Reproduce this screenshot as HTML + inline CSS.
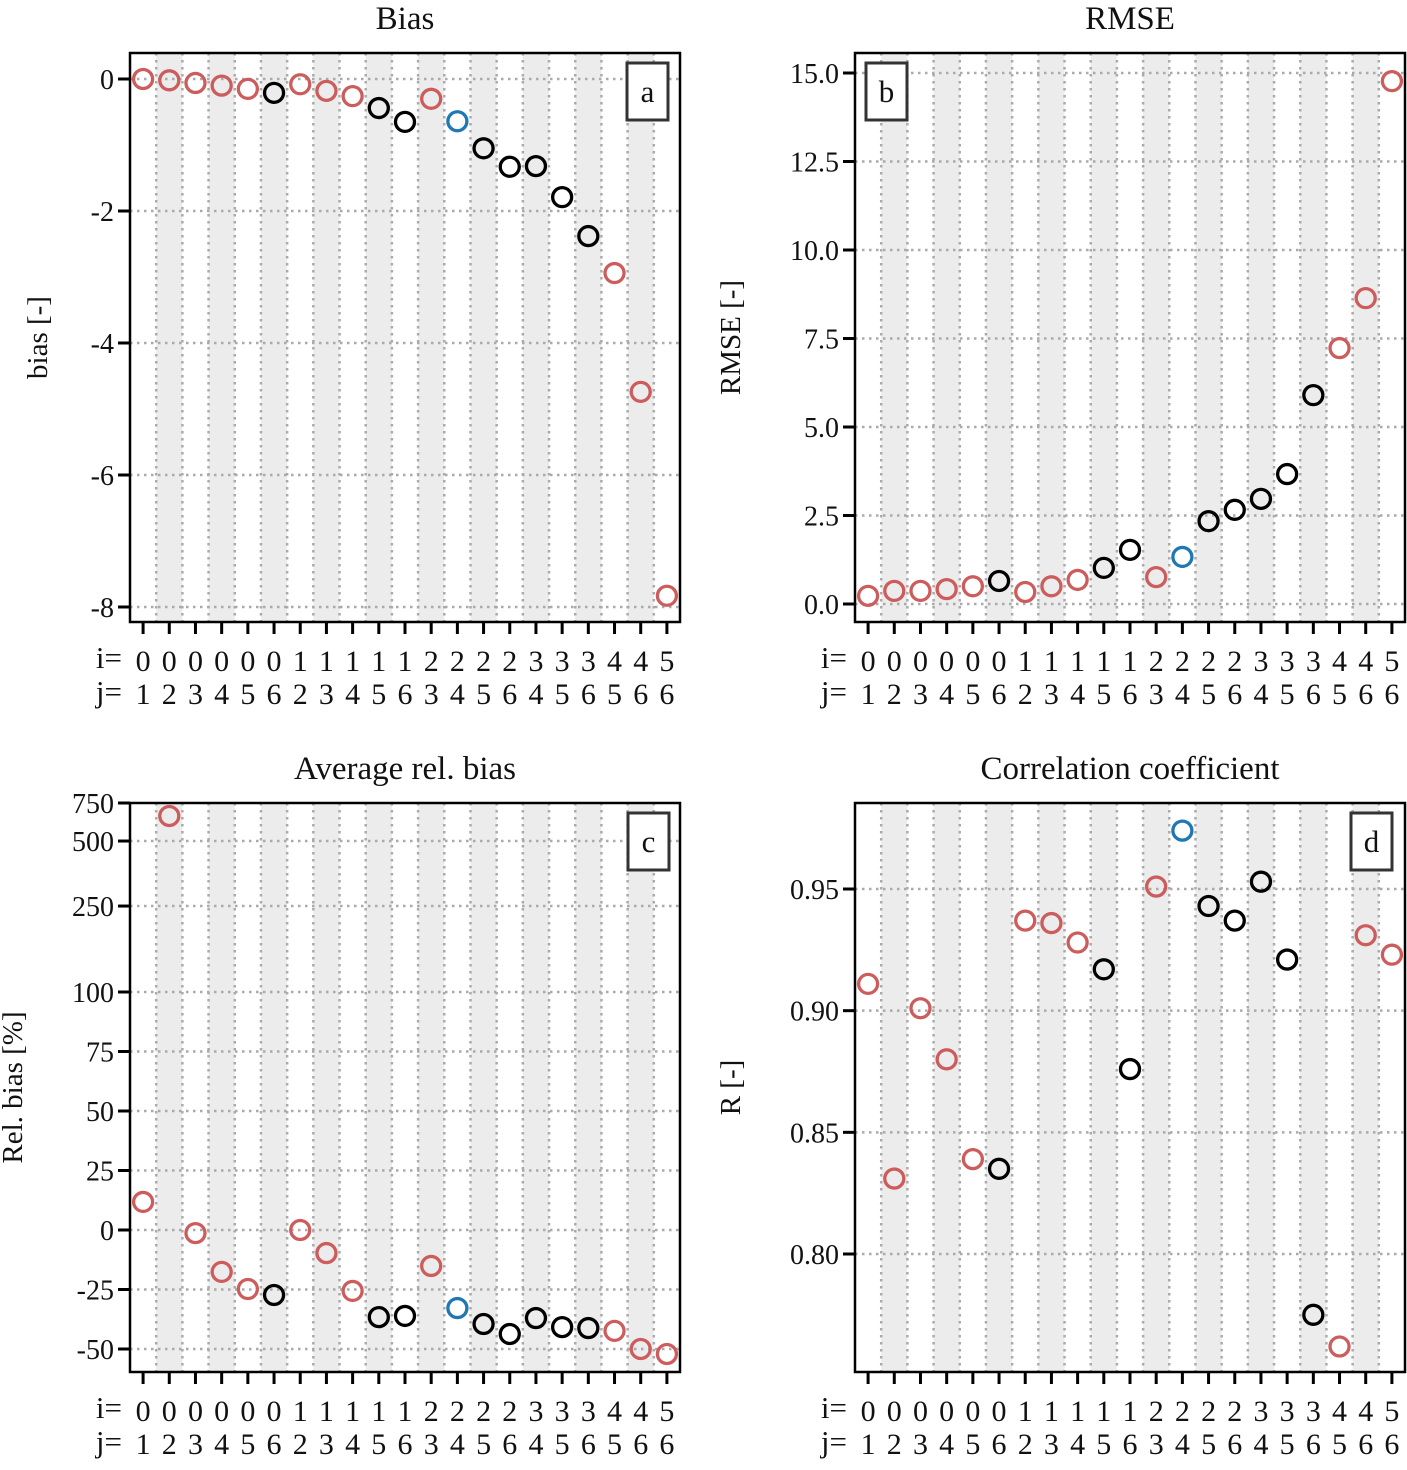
<!DOCTYPE html>
<html><head><meta charset="utf-8"><style>
body{margin:0;background:#fff;}
svg text{font-family:"Liberation Serif","DejaVu Serif",serif;fill:#111;}
</style></head><body>
<svg id="chart" width="1407" height="1465" xmlns="http://www.w3.org/2000/svg"></svg>
<script>
const iLabels=["0","0","0","0","0","0","1","1","1","1","1","2","2","2","2","3","3","3","4","4","5"];
const jLabels=["1","2","3","4","5","6","2","3","4","5","6","3","4","5","6","4","5","6","5","6","6"];
const kinds=["r","r","r","r","r","k","r","r","r","k","k","r","b","k","k","k","k","k","r","r","r"];
const biasVals=[0,-0.02,-0.06,-0.1,-0.15,-0.21,-0.08,-0.18,-0.26,-0.44,-0.65,-0.3,-0.64,-1.05,-1.33,-1.32,-1.79,-2.38,-2.94,-4.74,-7.83];
const rmseVals=[0.23,0.37,0.37,0.42,0.5,0.65,0.34,0.5,0.68,1.02,1.53,0.76,1.33,2.34,2.66,2.97,3.67,5.9,7.23,8.64,14.77];
const relVals=[11.8,653,-1.3,-17.6,-24.8,-27.3,0,-9.7,-25.6,-36.6,-36.1,-15.1,-32.8,-39.5,-43.7,-37,-40.8,-41.2,-42.4,-50,-52.1];
const rVals=[0.911,0.831,0.901,0.880,0.839,0.835,0.937,0.936,0.928,0.917,0.876,0.951,0.974,0.943,0.937,0.953,0.921,0.775,0.762,0.931,0.923];
const biasTicks=[0,-2,-4,-6,-8];
const rmseTicks=[0,2.5,5,7.5,10,12.5,15];
const relTicks=[750,500,250,100,75,50,25,0,-25,-50];
const rTicks=[0.95,0.90,0.85,0.80];
const colors={r:"#cd5c5c",k:"#000",b:"#1f77b4"};
const svg=document.getElementById('chart');
const NS="http://www.w3.org/2000/svg";
function mk(tag,attrs,parent){const e=document.createElementNS(NS,tag);for(const k in attrs)e.setAttribute(k,attrs[k]);(parent||svg).appendChild(e);return e;}
function linY(v0,p0,v1,p1){return v=>p0+(v-v0)*(p1-p0)/(v1-v0);}
const relY=v=>v<=100?1230-v*(238/100):992-Math.log10(v/100)*216;
function panel(opt){
  const {L,T,R,B,title,ylabel,ylabX,tag,tagX,vals,ticks,yf,fmt,name}=opt;
  const g=mk('g',{});
  
  
  const n=vals.length,w=(R-L)/n;
  const xf=k=>L+(k+0.5)*w;
  for(let k=1;k<n;k+=2){const r=mk('rect',{x:L+k*w,y:T,width:w,height:B-T,fill:'#ececec'},g);
    }
  for(let k=1;k<n;k++){const l=mk('line',{x1:L+k*w,x2:L+k*w,y1:T,y2:B,stroke:'#aaa','stroke-width':2.5,'stroke-dasharray':'2.5,4.5'},g);
    }
  ticks.forEach(t=>{const y=yf(t);
    if(y>T+2&&y<B-2){const gl=mk('line',{x1:L,x2:R,y1:y,y2:y,stroke:'#aaa','stroke-width':2.5,'stroke-dasharray':'2.5,4.5'},g);
      }
    const tk=mk('line',{x1:L-12,x2:L,y1:y,y2:y,stroke:'#000','stroke-width':3},g);
    
    const tx=mk('text',{x:L-16,y:y+10,'text-anchor':'end','font-size':28},g);tx.textContent=fmt(t);
    });
  for(let k=0;k<n;k++){const x=xf(k);
    const tk=mk('line',{x1:x,x2:x,y1:B,y2:B+12,stroke:'#000','stroke-width':3},g);
    
    const a=mk('text',{x:x,y:B+49,'text-anchor':'middle','font-size':30},g);a.textContent=iLabels[k];
    
    const b=mk('text',{x:x,y:B+82,'text-anchor':'middle','font-size':30},g);b.textContent=jLabels[k];
    }
  const li=mk('text',{x:L-8,y:B+46,'text-anchor':'end','font-size':31},g);li.textContent='i=';
  
  const lj=mk('text',{x:L-8,y:B+80,'text-anchor':'end','font-size':31},g);lj.textContent='j=';
  
  const bx=mk('rect',{x:L,y:T,width:R-L,height:B-T,fill:'none',stroke:'#000','stroke-width':2.5},g);
  
  vals.forEach((v,k)=>{const c=mk('circle',{cx:xf(k),cy:yf(v),r:9.5,fill:'none',stroke:colors[kinds[k]],'stroke-width':3.3},g);
    });
  const tt=mk('text',{x:(L+R)/2,y:T-24,'text-anchor':'middle','font-size':33},g);tt.textContent=title;
  
  const cy=(T+B)/2;
  const yl=mk('text',{x:ylabX,y:cy,'text-anchor':'middle','font-size':29,transform:`rotate(-90 ${ylabX} ${cy})`},g);yl.textContent=ylabel;
  
  const tb=mk('rect',{x:tagX,y:T+10,width:41,height:57,fill:'#fff',stroke:'#333','stroke-width':3},g);
  
  const tl=mk('text',{x:tagX+20.5,y:T+49,'text-anchor':'middle','font-size':31},g);tl.textContent=tag;
  
}
panel({name:'bias',L:130,T:53,R:680,B:622,title:'Bias',ylabel:'bias [-]',ylabX:47,tag:'a',tagX:627,vals:biasVals,ticks:biasTicks,yf:linY(0,79,-8,607),fmt:t=>String(t)});
panel({name:'rmse',L:855,T:53,R:1405,B:622,title:'RMSE',ylabel:'RMSE [-]',ylabX:740,tag:'b',tagX:866,vals:rmseVals,ticks:rmseTicks,yf:linY(0,604,15,73),fmt:t=>t.toFixed(1)});
panel({name:'relbias',L:130,T:803,R:680,B:1372,title:'Average rel. bias',ylabel:'Rel. bias [%]',ylabX:22,tag:'c',tagX:628,vals:relVals,ticks:relTicks,yf:relY,fmt:t=>String(t)});
panel({name:'corr',L:855,T:803,R:1405,B:1372,title:'Correlation coefficient',ylabel:'R [-]',ylabX:740,tag:'d',tagX:1351,vals:rVals,ticks:rTicks,yf:linY(0.95,889,0.80,1254),fmt:t=>t.toFixed(2)});
</script>
</body></html>
